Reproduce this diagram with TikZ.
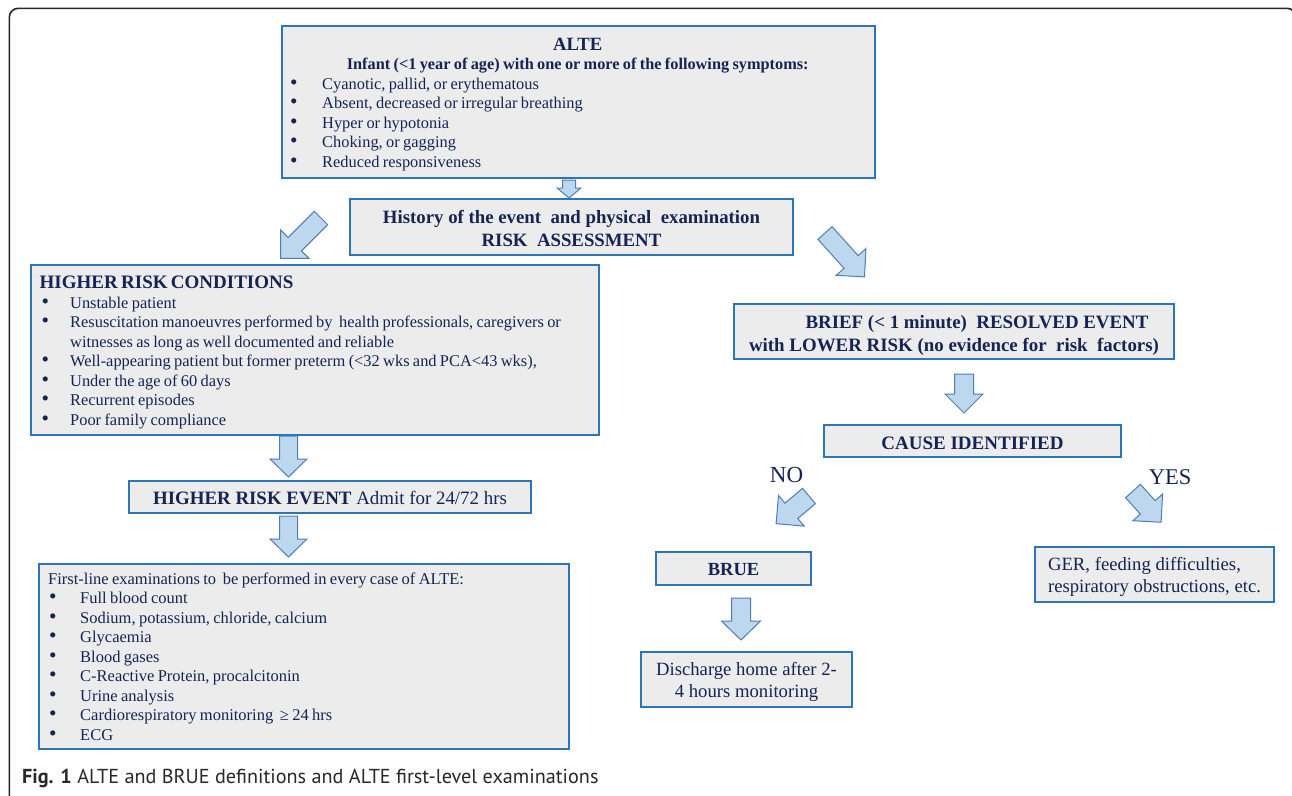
\documentclass[tikz,border=0pt]{standalone}
\usepackage{fontspec}
\setmainfont{Liberation Serif}
\newfontfamily\capfont{PT Sans}
\usetikzlibrary{calc}
\definecolor{boxblue}{RGB}{46,117,182}
\definecolor{boxfill}{RGB}{236,236,236}
\definecolor{navy}{RGB}{22,36,84}
\definecolor{arrfill}{RGB}{189,215,238}
\definecolor{arrline}{RGB}{80,126,178}
\definecolor{capgray}{RGB}{40,40,40}
\newlength\bulind \newlength\bulsp
\newcommand\bul[1]{\par\noindent\hangindent=\bulind\hangafter=1\makebox[\bulind][l]{\hspace{\bulsp}\scalebox{1.3}{\textbullet}}#1}
% tail, angle, length, shaft width, head width, head length
\newcommand\barrow[6]{%
\begin{scope}[shift={#1},rotate=#2]
\filldraw[arrowst] (0,-#4/2) -- ({#3-#6},-#4/2) -- ({#3-#6},-#5/2) -- (#3,0) -- ({#3-#6},#5/2) -- ({#3-#6},#4/2) -- (0,#4/2) -- cycle;
\end{scope}}
\tikzset{
  box/.style={draw=boxblue, line width=2pt, fill=boxfill, inner sep=0pt, text=navy},
  txt/.style={text=navy, inner sep=0pt},
  head/.style={txt, font=\bfseries\fontsize{#1}{23}\selectfont},
  frame/.style={draw=black!85, line width=1.6pt, rounded corners=9pt},
  arrowst/.style={fill=arrfill, draw=arrline, line width=1pt, line join=miter}
}
\begin{document}
\begin{tikzpicture}[x=1pt,y=-1pt]
\clip (0,0) rectangle (1292,795);
\fill[white] (0,0) rectangle (1292,795);
\draw[frame] (9.3,8.3) rectangle (1296,804);

% ALTE
\node[box, minimum width=593pt, minimum height=152pt, anchor=north west] (alte) at (281,25) {};
\node[txt, anchor=base west, text width=575pt] (alteT) at (290,50) {%
{\centering\bfseries\fontsize{18.7}{20}\selectfont ALTE\par}%
{\centering\bfseries\fontsize{16.3}{19.5}\selectfont Infant (<1 year of age) with one or more of the following symptoms:\par}%
\setlength\bulind{32pt}\setlength\bulsp{0pt}\fontsize{16.4}{19.5}\selectfont\raggedright
\bul{Cyanotic, pallid, or erythematous}
\bul{Absent, decreased or irregular breathing}
\bul{Hyper or hypotonia}
\bul{Choking, or gagging}
\bul{Reduced responsiveness}\par};

% History
\node[box, minimum width=443pt, minimum height=56pt] (hist) at (571.5,227) {};
\node[head=18.8, align=center, yshift=-1.5pt] (histT) at (hist.center) {History of the event\ \ and physical\ \ examination\\RISK\ \ ASSESSMENT};

% Higher risk conditions
\node[box, minimum width=568pt, minimum height=170pt, anchor=north west] (hrc) at (30,264) {};
\node[txt, anchor=base west, text width=555pt] (hrcT) at (39.5,288.5) {%
{\bfseries\fontsize{19}{20}\selectfont HIGHER RISK CONDITIONS\par}%
\setlength\bulind{30.5pt}\setlength\bulsp{2pt}\fontsize{16.4}{19.5}\selectfont\raggedright
\bul{Unstable patient}
\bul{Resuscitation manoeuvres performed by\ \ health professionals, caregivers or\newline witnesses as long as well documented and reliable}
\bul{Well-appearing patient but former preterm (<32 wks and PCA<43 wks),}
\bul{Under the age of 60 days}
\bul{Recurrent episodes}
\bul{Poor family compliance}\par};

% Higher risk event
\node[box, minimum width=402pt, minimum height=32pt] (hre) at (330,497) {};
\node[txt, font=\fontsize{18.9}{20}\selectfont, yshift=-0.8pt] (hreT) at (hre.center) {\textbf{HIGHER RISK EVENT} Admit for 24/72 hrs};

% First-line examinations
\node[box, minimum width=530pt, minimum height=185pt, anchor=north west] (fl) at (38,563) {};
\node[txt, anchor=base west, text width=515pt] (flT) at (48,584.5) {%
\setlength\bulind{32pt}\setlength\bulsp{1pt}\fontsize{16.5}{19.45}\selectfont\raggedright
First-line examinations to\ \ be performed in every case of ALTE:\par
\bul{Full blood count}
\bul{Sodium, potassium, chloride, calcium}
\bul{Glycaemia}
\bul{Blood gases}
\bul{C-Reactive Protein, procalcitonin}
\bul{Urine analysis}
\bul{Cardiorespiratory monitoring\ \ ≥ 24 hrs}
\bul{ECG}\par};

% Right branch
\node[box, minimum width=440pt, minimum height=55pt] (brief) at (954,331.5) {};
\node[head=18.9, align=center, yshift=-4pt] (briefT) at (brief.center) {\hspace*{46pt}BRIEF (< 1 minute)\ \ RESOLVED EVENT\\with LOWER RISK (no evidence for\ \ risk\ \ factors)};
\node[box, minimum width=297pt, minimum height=32pt] (cause) at (972.5,441) {};
\node[head=19, yshift=-2pt] (causeT) at (cause.center) {CAUSE IDENTIFIED};
\node[txt, font=\fontsize{23}{24}\selectfont] (no) at (786.5,475) {NO};
\node[txt, font=\fontsize{22.5}{24}\selectfont] (yes) at (1170,477) {YES};
\node[box, minimum width=155pt, minimum height=33pt] (brue) at (733.5,568.5) {};
\node[head=18.5, yshift=-1.5pt] (brueT) at (brue.center) {BRUE};
\node[box, minimum width=211pt, minimum height=55pt] (dis) at (746.5,679.5) {};
\node[txt, align=center, font=\fontsize{18.7}{22}\selectfont, yshift=-2pt] (disT) at (dis.center) {Discharge home after 2-\\4 hours monitoring};
\node[box, minimum width=239pt, minimum height=55pt] (ger) at (1154.5,574.5) {};
\node[txt, align=left, font=\fontsize{18.7}{22}\selectfont, yshift=-2.5pt] (gerT) at (ger.center) {GER, feeding difficulties,\\respiratory obstructions, etc.};

% Block arrows
\barrow{(569,180)}{270}{18}{13}{24}{10}
\barrow{(321,218)}{225}{57}{19}{40}{20}
\barrow{(825,233)}{-48}{59}{19}{40}{20}
\barrow{(288.5,436)}{270}{41}{18}{37}{18}
\barrow{(288.5,516)}{270}{41}{18}{37}{18}
\barrow{(964,374)}{270}{39}{19}{38}{19}
\barrow{(809,496)}{220}{43}{20}{40}{20}
\barrow{(1133,491)}{-48}{42}{20}{40}{20}
\barrow{(741,598)}{270}{42}{19}{39}{19}

% Caption
\node[anchor=base west, inner sep=0pt, font=\capfont\fontsize{20.2}{24}\selectfont, text=capgray] (cap) at (22,783) {\textbf{Fig. 1} ALTE and BRUE definitions and ALTE first-level examinations};
\end{tikzpicture}
\end{document}
